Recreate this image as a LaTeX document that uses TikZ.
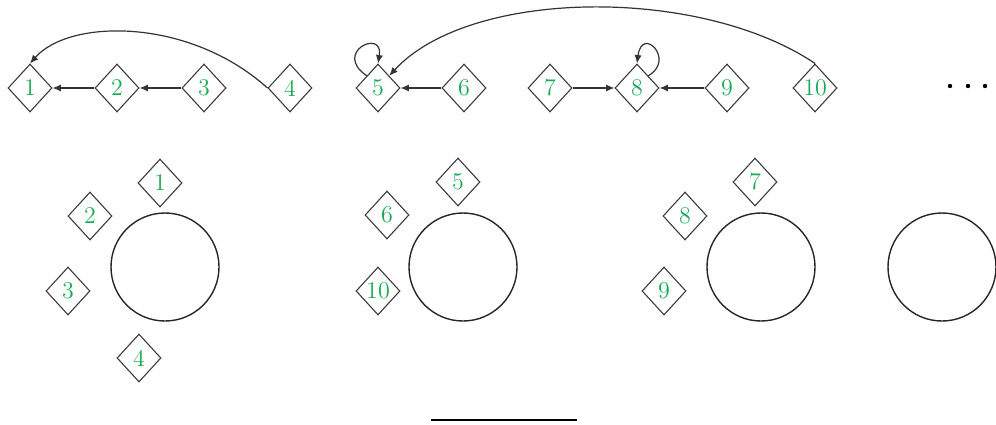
\documentclass[tikz,border=0pt]{standalone}
\usetikzlibrary{shapes.geometric,arrows.meta}
\definecolor{numgreen}{RGB}{25,170,85}
\definecolor{edgegray}{RGB}{60,60,60}
\begin{document}
\begin{tikzpicture}[x=0.5pt,y=-0.5pt,
  dnode/.style={shape=diamond,draw=edgegray,line width=0.55pt,inner sep=0pt,
    minimum width=22pt,minimum height=24pt,text=numgreen,font=\large},
  ring/.style={shape=circle,draw=black!85,line width=0.7pt,minimum size=54pt,inner sep=0pt},
  dotn/.style={shape=circle,fill=black,inner sep=0pt,minimum size=2.2pt},
  arr/.style={draw=black!80,line width=0.6pt,-{Latex[length=4.2pt,width=3.6pt]}}]
\useasboundingbox (0,0) rectangle (996,424);
% top row
\foreach \i/\x in {1/30,2/117,3/204,4/290,5/378,6/464,7/550,8/637,9/727,10/815}
  \node[dnode] (t\i) at (\x,88) {\i};
\draw[arr] (t2) -- (t1);
\draw[arr] (t3) -- (t2);
\draw[arr] (t6) -- (t5);
\draw[arr] (t7) -- (t8);
\draw[arr] (t9) -- (t8);
\draw[arr] (t4.west) .. controls (190,18) and (70,18) .. (t1.north);
\draw[arr] (t10.north) .. controls (700,-14) and (470,-12) .. (t5.north east);
\draw[arr] (t5.north west) .. controls (332,52) and (384,28) .. (t5.north);
\draw[arr] (t8.north east) .. controls (676,60) and (642,25) .. (t8.north);
% dots
\node[dotn] (d1) at (950,86) {};
\node[dotn] (d2) at (968,86) {};
\node[dotn] (d3) at (985,86) {};
% bottom circles
\node[ring] (c1) at (165,267) {};
\node[ring] (c2) at (463,267) {};
\node[ring] (c3) at (761,267) {};
\node[ring] (c4) at (942,267) {};
% bottom diamonds
\foreach \i/\x/\y in {1/160/183,2/90/216,3/68/291,4/139/358,5/458/182,6/387/215,10/378/291,7/755/182,8/685/216,9/664/291}
  \node[dnode] (b\i) at (\x,\y) {\i};
% bottom line
\coordinate (la) at (431,420);
\coordinate (lb) at (577,420);
\draw[line width=1pt] (la) -- (lb);
\end{tikzpicture}
\end{document}
